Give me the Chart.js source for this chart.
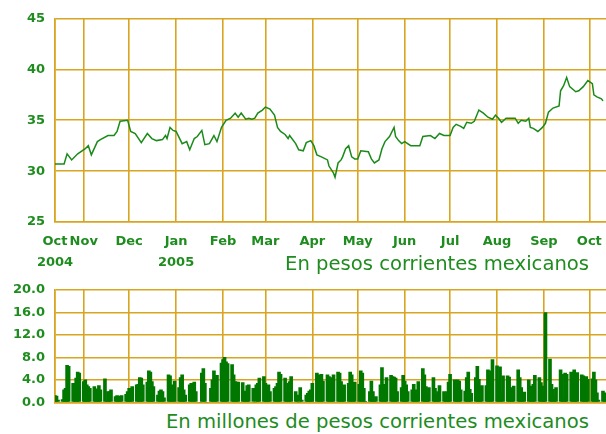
<!DOCTYPE html>
<html>
<head>
<meta charset="utf-8">
<script src="https://cdn.jsdelivr.net/npm/chart.js@4.4.1/dist/chart.umd.min.js"></script>
<style>
  html, body { margin: 0; padding: 0; background: #fff; }
  #wrap { position: relative; width: 606px; height: 434px; overflow: hidden; font-family: 'DejaVu Sans', sans-serif; }
  #price-canvas { position: absolute; left: 0; top: 0; }
  #volume-canvas { position: absolute; left: 0; top: 280px; }
  .caption { position: absolute; right: 17px; font-size: 19.6px; line-height: 19.6px; color: #1e8c1e; white-space: nowrap; }
</style>
</head>
<body>
<div id="wrap">
  <canvas id="price-canvas" width="606" height="280"></canvas>
  <canvas id="volume-canvas" width="606" height="130"></canvas>
  <div class="caption" style="top:254px">En pesos corrientes mexicanos</div>
  <div class="caption" style="top:412px">En millones de pesos corrientes mexicanos</div>
</div>
<script>
// days are counted from 1 Oct 2004 (day 0)
const firstDay = 12;   // 13 Oct 2004
const lastDay = 376;   // 12 Oct 2005

const monthTickDays = [12, 31, 61, 92, 123, 151, 182, 212, 243, 273, 304, 335, 365];
const monthTickLabels = [['Oct', '2004'], 'Nov', 'Dec', ['Jan', '2005'], 'Feb', 'Mar', 'Apr', 'May', 'Jun', 'Jul', 'Aug', 'Sep', 'Oct'];

const priceTicks = [25, 30, 35, 40, 45];
const volumeTicks = [0, 4, 8, 12, 16, 20];

// precio (pesos)
const priceDays = [
  12, 18, 20, 23, 27, 32, 34, 36, 40, 42,
  47, 51, 53, 55, 60, 62, 65, 69, 73, 76,
  79, 83, 85, 86, 88, 90, 92, 96, 99, 101,
  104, 106, 109, 111, 114, 117, 119, 122, 125, 128,
  131, 133, 135, 138, 140, 142, 144, 146, 149, 151,
  154, 157, 159, 161, 164, 166, 167, 171, 173, 176,
  178, 181, 183, 185, 188, 192, 193, 196, 197, 199,
  201, 202, 204, 206, 208, 210, 212, 214, 219, 221,
  223, 226, 228, 230, 233, 236, 237, 239, 241, 243,
  247, 250, 253, 255, 260, 263, 266, 269, 273, 275,
  277, 280, 282, 284, 287, 289, 292, 295, 298, 301,
  303, 305, 307, 310, 313, 316, 318, 320, 323, 325,
  326, 328, 331, 334, 336, 338, 341, 345, 346, 348,
  350, 352, 356, 358, 361, 364, 367, 368, 370, 373,
  374
];
const priceValues = [
  30.7, 30.7, 31.7, 31.1, 31.7, 32.2, 32.5, 31.6, 32.9, 33.1,
  33.5, 33.5, 33.9, 34.9, 35.0, 33.9, 33.7, 32.8, 33.7, 33.2,
  33.0, 33.1, 33.5, 33.2, 34.3, 34.0, 33.9, 32.7, 32.9, 32.1,
  33.2, 33.4, 34.0, 32.6, 32.7, 33.5, 32.9, 34.3, 35.0, 35.2,
  35.7, 35.3, 35.7, 35.1, 35.2, 35.1, 35.2, 35.7, 36.0, 36.3,
  36.1, 35.5, 34.3, 33.9, 33.6, 33.2, 33.5, 32.7, 32.1, 32.0,
  32.8, 33.0, 32.5, 31.6, 31.4, 31.1, 30.5, 29.8, 29.4, 30.8,
  31.1, 31.4, 32.2, 32.5, 31.4, 31.2, 31.2, 32.0, 31.9, 31.2,
  30.8, 31.1, 32.2, 32.9, 33.4, 34.3, 33.4, 33.0, 32.7, 32.9,
  32.5, 32.5, 32.5, 33.4, 33.5, 33.2, 33.7, 33.5, 33.5, 34.3,
  34.6, 34.4, 34.2, 34.8, 34.7, 34.9, 36.0, 35.7, 35.3, 35.1,
  35.5, 35.2, 34.8, 35.2, 35.2, 35.2, 34.7, 35.0, 34.9, 35.2,
  34.3, 34.2, 33.9, 34.3, 34.7, 35.8, 36.2, 36.4, 37.9, 38.4,
  39.2, 38.3, 37.8, 37.9, 38.3, 38.9, 38.6, 37.5, 37.3, 37.1,
  36.9
];

// importe operado (millones de pesos), one bar per weekday from 13 Oct 2004
const volumeValues = [
  1.2, 1.1, 0.4, 0.5, 2.2, 2.5, 6.6, 6.4, 3.4, 3.4,
  4.3, 5.4, 5.2, 3.7, 4.0, 3.1, 2.8, 2.5, 2.8, 2.2,
  2.4, 3.0, 2.2, 4.2, 0.2, 1.9, 1.9, 2.2, 1.0, 1.2,
  1.0, 1.1, 1.2, 1.4, 1.9, 2.5, 2.5, 2.8, 3.1, 3.2,
  4.4, 4.3, 3.1, 3.6, 5.6, 5.4, 3.7, 2.8, 1.3, 2.0,
  2.2, 1.9, 0.8, 4.9, 4.7, 3.1, 1.9, 3.8, 2.6, 4.4,
  4.9, 2.2, 1.3, 3.1, 3.4, 2.5, 3.6,
  1.9, 0, 5.2, 6.0, 3.4, 0, 2.5, 4.0, 5.6, 4.3,
  4.8, 7.0, 7.6, 8.0, 7.2, 6.9, 6.7, 4.9, 3.7, 3.6,
  3.6, 3.5, 2.0, 0.3, 3.0, 3.1, 2.5, 0, 3.1, 3.4,
  4.3, 4.6, 3.4, 2.8, 3.1, 1.9, 2.5, 2.8, 3.4, 5.4,
  5.0, 4.3, 1.9, 3.4, 3.7, 4.6, 1.9, 1.3, 0, 2.6,
  0.4, 1.3, 1.6, 2.0, 2.2, 3.4, 5.2, 4.9, 4.2, 5.0,
  3.8, 4.9, 4.6,
  4.4, 3.8, 4.9, 5.4, 5.2, 3.7, 2.5, 3.1, 3.4, 5.4,
  4.9, 3.4, 3.6, 3.2, 5.6, 5.2, 2.5, 0.1, 1.9, 3.8,
  1.9, 0.1, 1.0, 3.1, 6.2, 3.2, 1.3, 4.4, 4.8, 4.6,
  4.5, 4.3, 1.9, 2.6, 4.8, 3.8, 3.1, 1.9, 2.2, 3.2,
  2.2, 1.0, 3.7, 6.0, 4.9, 2.8, 1.3, 2.6, 4.4, 2.5,
  1.3, 1.9, 3.0, 1.9, 1.0, 1.9, 3.6, 5.0, 4.0, 3.0,
  4.0, 3.8, 2.2, 2.0,
  4.4, 5.4, 2.3, 1.6, 4.4, 6.4, 4.1, 0.3, 3.0, 3.0,
  5.8, 4.8, 5.6, 7.6, 6.5, 3.8, 6.3, 1.6, 4.7, 4.7,
  4.5, 2.6, 0.6, 2.9, 5.8, 4.4, 2.6, 0.4, 1.8, 4.0,
  2.6, 2.9, 3.2, 4.8, 4.4, 3.5, 2.9, 1.2, 16.0, 7.7,
  3.2, 2.3, 1.2, 2.6, 5.8, 5.0, 0.8, 5.2, 5.0, 5.4,
  5.1, 5.8, 5.0, 5.3, 4.9, 4.7, 4.2, 4.6, 4.1, 4.2,
  5.4, 4.0, 1.7, 0.4, 2.0, 1.7, 1.6
];

const GOLD = '#d9a521';
const TEXT_GREEN = '#1e8c1e';

Chart.defaults.animation = false;
Chart.defaults.font.family = 'DejaVu Sans';

// weekday numbers (from 1 Oct 2004) for the volume bars
function weekdaysFrom(startDay, count) {
  const days = [];
  let d = startDay;
  while (days.length < count) {
    const wd = new Date(2004, 9, 1 + d).getDay();
    if (wd !== 0 && wd !== 6) days.push(d);
    d++;
  }
  return days;
}

// keep the plot box where the layout padding puts it
function noEdgePadding(scale) {
  scale.paddingTop = 0;
  scale.paddingBottom = 0;
  scale.paddingLeft = 0;
  scale.paddingRight = 0;
}

function monthAxis(showLabels, height) {
  return {
    type: 'linear',
    min: firstDay,
    max: lastDay,
    offset: false,
    afterBuildTicks: (scale) => {
      scale.ticks = monthTickDays.map(v => ({ value: v }));
    },
    afterFit: (scale) => {
      scale.height = height;
      noEdgePadding(scale);
    },
    grid: { color: GOLD, lineWidth: 1.6, drawTicks: false, offset: false },
    border: { color: GOLD, width: 1.6 },
    ticks: {
      display: showLabels,
      autoSkip: false,
      maxRotation: 0,
      padding: 9,
      color: TEXT_GREEN,
      font: { size: 13, weight: 'bold', lineHeight: 1.62 },
      callback: (value, index) => monthTickLabels[index],
    },
  };
}

function valueAxis(ticksArr, decimals) {
  return {
    type: 'linear',
    min: ticksArr[0],
    max: ticksArr[ticksArr.length - 1],
    afterBuildTicks: (scale) => {
      scale.ticks = ticksArr.map(v => ({ value: v }));
    },
    afterFit: (scale) => {
      scale.width = 55;
      noEdgePadding(scale);
    },
    grid: { color: GOLD, lineWidth: 1.6, drawTicks: false },
    border: { color: GOLD, width: 1.6 },
    ticks: {
      autoSkip: false,
      padding: 10,
      color: TEXT_GREEN,
      font: { size: 13, weight: 'bold', lineHeight: 1 },
      callback: (value) => value.toFixed(decimals),
    },
  };
}

new Chart(document.getElementById('price-canvas'), {
  type: 'line',
  data: {
    datasets: [{
      data: priceDays.map((d, i) => ({ x: d, y: priceValues[i] })),
      borderColor: '#1a8a1a',
      borderWidth: 1.5,
      pointRadius: 0,
      tension: 0,
    }],
  },
  options: {
    responsive: false,
    layout: { padding: { top: 18.5, right: 0, left: 0, bottom: 0 } },
    plugins: { legend: { display: false }, tooltip: { enabled: false } },
    scales: {
      x: monthAxis(true, 58),
      y: valueAxis(priceTicks, 0),
    },
  },
});

const volumeDays = weekdaysFrom(firstDay, volumeValues.length);

new Chart(document.getElementById('volume-canvas'), {
  type: 'bar',
  data: {
    datasets: [{
      data: volumeDays.map((d, i) => ({ x: d, y: volumeValues[i] })),
      backgroundColor: '#007800',
      barThickness: 3,
    }],
  },
  options: {
    responsive: false,
    layout: { padding: { top: 10, right: 0, left: 0, bottom: 7.7 } },
    plugins: { legend: { display: false }, tooltip: { enabled: false } },
    scales: {
      x: monthAxis(false, 0),
      y: valueAxis(volumeTicks, 1),
    },
  },
});
</script>
</body>
</html>
